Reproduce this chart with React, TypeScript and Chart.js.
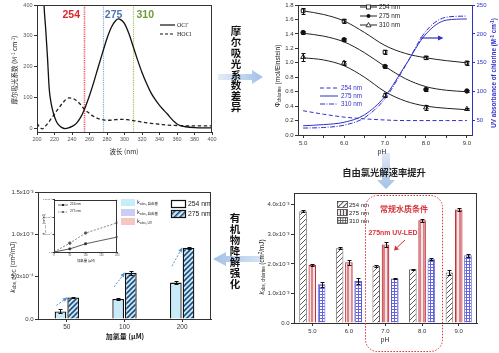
import React, { useEffect, useRef } from "react";
import { Chart, registerables } from "chart.js";

Chart.register(...registerables);

// ================= Panel A: molar absorptivity =================
const oclWavelengths = [205, 208, 210, 212, 214, 216, 219, 222, 225, 228, 232, 236, 240, 245, 250, 254, 260, 265, 270, 275, 280, 285, 290, 293, 296, 300, 305, 310, 315, 320, 325, 330, 335, 340, 345, 349, 353, 357, 360, 365, 370, 380, 390, 400];
const oclEpsilon = [620, 400, 320, 230, 128, 85, 48, 25, 12, 5, 1, 3, 8, 18, 38, 62, 108, 152, 200, 247, 292, 328, 350, 355, 352, 340, 308, 265, 222, 182, 148, 118, 95, 76, 60, 48, 35, 23, 16, 10, 7, 4, 3, 3];
const hoclWavelengths = [200, 203, 206, 210, 215, 220, 225, 230, 236, 240, 245, 250, 254, 259, 265, 270, 276, 282, 290, 298, 305, 310, 320, 330, 340, 350, 360, 370, 380, 390, 400];
const hoclEpsilon = [18, 6, 0, 10, 28, 48, 68, 86, 100, 99, 92, 78, 64, 52, 40, 33, 29, 28, 30, 31, 29, 27, 22, 18, 15, 12, 11, 10, 10, 10, 10];
const wavelengthTicks = [200, 220, 240, 260, 280, 300, 320, 340, 360, 380, 400];
const epsilonTicks = [0, 100, 200, 300, 400];
const markerWavelengths = [254, 275, 310];
const markerLabels = ["254", "275", "310"];

// ================= Panel B: quantum yield vs pH =================
const phValues = [5, 6, 7, 8, 9];
const phi254 = [1.72, 1.58, 1.15, 1.07, 1.0];
const phi275 = [1.42, 1.32, 0.95, 0.63, 0.61];
const phi310 = [1.08, 1.0, 0.55, 0.38, 0.36];
const phi254Err = [0.04, 0.03, 0.03, 0.02, 0.03];
const phi275Err = [0.02, 0.02, 0.02, 0.02, 0.02];
const phi310Err = [0.05, 0.03, 0.03, 0.04, 0.02];
const fitPH = [5, 5.5, 6, 6.5, 7, 7.5, 8, 8.5, 9];
const fit254 = [1.72, 1.67, 1.58, 1.42, 1.24, 1.13, 1.07, 1.03, 1.0];
const fit275 = [1.41, 1.37, 1.29, 1.14, 0.95, 0.78, 0.67, 0.62, 0.6];
const fit310 = [1.07, 1.04, 0.96, 0.8, 0.6, 0.47, 0.4, 0.37, 0.35];
const abs254 = [67, 61, 56, 53, 51, 50, 50, 50, 50];
const abs275 = [41, 43, 47, 60, 92, 146, 200, 224, 226];
const abs310 = [37, 38, 42, 55, 88, 145, 205, 229, 231];
const phTicks = [5, 5.5, 6, 6.5, 7, 7.5, 8, 8.5, 9];
const phiTicks = [0, 0.2, 0.4, 0.6, 0.8, 1.0, 1.2, 1.4, 1.6, 1.8];
const absTicks = [50, 100, 150, 200, 250];

// ================= Panel C: DOC degradation =================
const doseValues = [50, 100, 200];
const kDoc254 = [0.9e-4, 2.36e-4, 4.3e-4];
const kDoc275 = [2.55e-4, 5.45e-4, 8.4e-4];
const kDoc254Err = [0.25e-4, 0.12e-4, 0.15e-4];
const kDoc275Err = [0.1e-4, 0.25e-4, 0.12e-4];
const kDocTicks = [0, 5e-4, 1e-3, 1.5e-3];
const insetDoseTicks = [0, 50, 100, 150, 200];

// ================= Panel D: chlorine decay vs pH =================
const phCategories = ["5.0", "6.0", "7.0", "8.0", "9.0"];
const kCl254 = [3.78e-3, 2.53e-3, 1.94e-3, 1.82e-3, 1.71e-3];
const kCl275 = [1.97e-3, 2.06e-3, 2.66e-3, 3.48e-3, 3.84e-3];
const kCl310 = [1.31e-3, 1.42e-3, 1.51e-3, 2.16e-3, 2.29e-3];
const kCl254Err = [0.03e-3, 0.03e-3, 0.03e-3, 0.02e-3, 0.1e-3];
const kCl275Err = [0.03e-3, 0.08e-3, 0.08e-3, 0.05e-3, 0.05e-3];
const kCl310Err = [0.08e-3, 0.1e-3, 0.02e-3, 0.04e-3, 0.06e-3];
const kClTicks = [0, 1e-3, 2e-3, 3e-3, 4e-3];

// ================= styling =================
const FONT = "'Liberation Sans', Arial, Helvetica, sans-serif";
const SERIF = "'Liberation Serif', 'Times New Roman', serif";
const CJK = "'Noto Sans CJK SC', 'Noto Sans', sans-serif";
const BLUE = "#3030c8";
const RED = "#d7333b";
const markerColors = ["#ec5a60", "#8ea8d0", "#a4c164"];
const markerTextColors = ["#d8262d", "#4f76b5", "#6f9a3c"];
const markerLabelDx = [-13, 11, 12];

function sciLabel(v: number) {
  if (Math.abs(v) < 1e-12) return "0.0";
  if (v < 9.9e-4) return (v * 1e4).toFixed(1) + "x10\u207B\u2074";
  return (v * 1e3).toFixed(1) + "x10\u207B\u00B3";
}

function scaleCfg(o: any) {
  const color = o.color || "#333";
  const ticks: any = {
    font: { family: FONT, size: o.size ?? 6 },
    color: o.labelColor || "#333",
    padding: o.padding ?? 1.5,
    autoSkip: false,
    maxRotation: 0,
    minRotation: 0,
  };
  if (o.callback) ticks.callback = o.callback;
  const cfg: any = {
    type: o.type || "linear",
    grid: { display: true, drawOnChartArea: false, drawTicks: true, tickLength: o.tickLength ?? 3, color, lineWidth: 1, offset: false },
    border: { display: true, color, width: 1 },
    ticks,
    afterFit: (s: any) => {
      if (o.width != null) s.width = o.width;
      if (o.height != null) s.height = o.height;
    },
  };
  if (o.position) cfg.position = o.position;
  if (o.min != null) cfg.min = o.min;
  if (o.max != null) cfg.max = o.max;
  if (o.offset != null) cfg.offset = o.offset;
  if (o.tickValues) {
    cfg.afterBuildTicks = (s: any) => {
      s.ticks = o.tickValues.map((v: number) => ({ value: v }));
    };
  }
  return cfg;
}

const framePlugin = {
  id: "frame",
  afterDraw(chart: any, _a: any, opts: any) {
    const { ctx, chartArea: a } = chart;
    ctx.save();
    ctx.strokeStyle = opts.color || "#333";
    ctx.lineWidth = 1;
    ctx.beginPath();
    const t = Math.round(a.top) + 0.5;
    const r = Math.round(a.right) - 0.5;
    ctx.moveTo(a.left, t);
    ctx.lineTo(a.right, t);
    if (opts.right !== false) {
      ctx.moveTo(r, a.top);
      ctx.lineTo(r, a.bottom);
    }
    ctx.stroke();
    ctx.restore();
  },
};

const errorBarPlugin = {
  id: "errorBars",
  afterDatasetsDraw(chart: any) {
    const ctx = chart.ctx;
    chart.data.datasets.forEach((ds: any, i: number) => {
      if (!ds.errorBars) return;
      const meta = chart.getDatasetMeta(i);
      const ys = chart.scales[meta.yAxisID];
      ctx.save();
      ctx.strokeStyle = ds.errorColor || "#111";
      ctx.lineWidth = 1;
      const cw = ds.errorCap ?? 2;
      meta.data.forEach((el: any, j: number) => {
        const raw = ds.data[j];
        const v = typeof raw === "number" ? raw : raw.y;
        const e = ds.errorBars[j];
        const x = Math.round(el.x) + 0.5;
        const y1 = Math.round(ys.getPixelForValue(v + e)) + 0.5;
        const y2 = Math.round(ys.getPixelForValue(v - e)) + 0.5;
        ctx.beginPath();
        ctx.moveTo(x, y1);
        ctx.lineTo(x, y2);
        ctx.moveTo(x - cw, y1);
        ctx.lineTo(x + cw, y1);
        ctx.moveTo(x - cw, y2);
        ctx.lineTo(x + cw, y2);
        ctx.stroke();
      });
      ctx.restore();
    });
  },
};

const markerPlugin = {
  id: "markers",
  beforeDatasetsDraw(chart: any) {
    const { ctx, chartArea: a, scales } = chart;
    markerWavelengths.forEach((w, i) => {
      const px = Math.round(scales.x.getPixelForValue(w)) + 0.5;
      ctx.save();
      ctx.strokeStyle = markerColors[i];
      ctx.lineWidth = i === 0 ? 1.6 : 1.2;
      ctx.setLineDash([1.2, 1]);
      ctx.beginPath();
      ctx.moveTo(px, a.top);
      ctx.lineTo(px, a.bottom);
      ctx.stroke();
      ctx.restore();
    });
  },
  afterDatasetsDraw(chart: any) {
    const { ctx, scales } = chart;
    markerWavelengths.forEach((w, i) => {
      const px = scales.x.getPixelForValue(w);
      ctx.save();
      ctx.fillStyle = markerTextColors[i];
      ctx.font = `bold 10.5px ${FONT}`;
      ctx.textAlign = "center";
      ctx.textBaseline = "middle";
      ctx.fillText(markerLabels[i], px + markerLabelDx[i], 15);
      ctx.restore();
    });
  },
};

const docArrowPlugin = {
  id: "docArrows",
  afterDatasetsDraw(chart: any) {
    const ctx = chart.ctx;
    const m0 = chart.getDatasetMeta(0);
    const m1 = chart.getDatasetMeta(1);
    m0.data.forEach((b0: any, j: number) => {
      const b1 = m1.data[j];
      const sx = b0.x - 4;
      const sy = (b0.y + b1.y) / 2 + 1;
      const ex = b1.x - 7;
      const ey = b1.y + 1;
      ctx.save();
      ctx.strokeStyle = "#5d8fd2";
      ctx.fillStyle = "#5d8fd2";
      ctx.lineWidth = 1;
      ctx.setLineDash([2, 1.5]);
      ctx.beginPath();
      ctx.moveTo(sx, sy);
      ctx.lineTo(ex, ey);
      ctx.stroke();
      ctx.setLineDash([]);
      const ang = Math.atan2(ey - sy, ex - sx);
      ctx.beginPath();
      ctx.moveTo(ex + 2 * Math.cos(ang), ey + 2 * Math.sin(ang));
      ctx.lineTo(ex - 3 * Math.cos(ang) - 2 * Math.sin(ang), ey - 3 * Math.sin(ang) + 2 * Math.cos(ang));
      ctx.lineTo(ex - 3 * Math.cos(ang) + 2 * Math.sin(ang), ey - 3 * Math.sin(ang) - 2 * Math.cos(ang));
      ctx.closePath();
      ctx.fill();
      ctx.restore();
    });
  },
};

function makePattern(size: number, bg: string, fg: string, lw: number, kind: string) {
  const c = document.createElement("canvas");
  c.width = size;
  c.height = size;
  const g = c.getContext("2d")!;
  g.fillStyle = bg;
  g.fillRect(0, 0, size, size);
  g.strokeStyle = fg;
  g.lineWidth = lw;
  g.beginPath();
  if (kind === "diag") {
    g.moveTo(0, size);
    g.lineTo(size, 0);
    g.moveTo(-size / 2, size / 2);
    g.lineTo(size / 2, -size / 2);
    g.moveTo(size / 2, size * 1.5);
    g.lineTo(size * 1.5, size / 2);
  } else if (kind === "vert") {
    g.moveTo(size / 2, 0);
    g.lineTo(size / 2, size);
  } else {
    g.moveTo(0.5, 0);
    g.lineTo(0.5, size);
    g.moveTo(0, 0.5);
    g.lineTo(size, 0.5);
  }
  g.stroke();
  return g.createPattern(c, "repeat");
}

const baseOpts = (padding: any, plugins: any = {}) => ({
  responsive: false,
  animation: false,
  devicePixelRatio: 1,
  layout: { padding },
  plugins: { legend: { display: false }, tooltip: { enabled: false }, ...plugins },
});

function buildA() {
  return {
    type: "line",
    data: {
      datasets: [
        {
          data: oclWavelengths.map((x, i) => ({ x, y: oclEpsilon[i] })),
          borderColor: "#111",
          borderWidth: 1.3,
          pointRadius: 0,
          cubicInterpolationMode: "monotone",
        },
        {
          data: hoclWavelengths.map((x, i) => ({ x, y: hoclEpsilon[i] })),
          borderColor: "#222",
          borderWidth: 1.3,
          borderDash: [3.5, 2.5],
          pointRadius: 0,
          cubicInterpolationMode: "monotone",
        },
      ],
    },
    options: {
      ...baseOpts({ top: 5, right: 38, left: 0, bottom: 0 }),
      scales: {
        x: scaleCfg({ min: 200, max: 400, tickValues: wavelengthTicks, height: 28, callback: (v: any) => String(v), size: 5.5, labelColor: "#555" }),
        y: scaleCfg({ min: -10, max: 400, tickValues: epsilonTicks, width: 37, callback: (v: any) => String(v), size: 5.5, labelColor: "#555" }),
      },
    },
    plugins: [markerPlugin, framePlugin],
  };
}

function buildB() {
  const pts = (vals: number[]) => phValues.map((x, i) => ({ x, y: vals[i] }));
  const fit = (vals: number[]) => fitPH.map((x, i) => ({ x, y: vals[i] }));
  const line = (vals: number[], color: string, axis: string, dash: number[] = []) => ({
    data: fit(vals),
    borderColor: color,
    borderWidth: 1,
    borderDash: dash,
    pointRadius: 0,
    cubicInterpolationMode: "monotone",
    yAxisID: axis,
  });
  return {
    type: "line",
    data: {
      datasets: [
        line(abs254, BLUE, "y1", [4, 2.5]),
        line(abs275, BLUE, "y1"),
        line(abs310, BLUE, "y1", [5, 1.5, 1, 1.5]),
        line(fit254, "#222", "y"),
        line(fit275, "#222", "y"),
        line(fit310, "#222", "y"),
        { data: pts(phi254), showLine: false, pointStyle: "rect", pointRadius: 2.6, backgroundColor: "#fff", borderColor: "#222", borderWidth: 1, errorBars: phi254Err, yAxisID: "y" },
        { data: pts(phi275), showLine: false, pointStyle: "circle", pointRadius: 2.2, backgroundColor: "#111", borderColor: "#111", borderWidth: 1, errorBars: phi275Err, yAxisID: "y" },
        { data: pts(phi310), showLine: false, pointStyle: "triangle", pointRadius: 2.8, backgroundColor: "#fff", borderColor: "#222", borderWidth: 1, errorBars: phi310Err, yAxisID: "y" },
      ],
    },
    options: {
      ...baseOpts({ top: 4, right: 0, left: 0, bottom: 0 }, { frame: { right: false } }),
      scales: {
        x: scaleCfg({ min: 4.875, max: 9.125, tickValues: phTicks, height: 25, callback: (v: any) => (v % 1 === 0 ? Number(v).toFixed(1) : ""), size: 6 }),
        y: scaleCfg({ min: 0, max: 1.8, tickValues: phiTicks, width: 48, callback: (v: any) => Number(v).toFixed(1), size: 6 }),
        y1: scaleCfg({ position: "right", min: 25, max: 250, tickValues: absTicks, width: 27, callback: (v: any) => String(v), size: 6, color: BLUE, labelColor: BLUE }),
      },
    },
    plugins: [framePlugin, errorBarPlugin],
  };
}

function buildC() {
  const hatch = makePattern(5, "#cfe9f7", "#1d4f7d", 1.6, "diag");
  return {
    type: "bar",
    data: {
      labels: doseValues.map(String),
      datasets: [
        { data: kDoc254, backgroundColor: "#c9eaf8", borderColor: "#111", borderWidth: 1.3, errorBars: kDoc254Err, errorCap: 2 },
        { data: kDoc275, backgroundColor: hatch, borderColor: "#111", borderWidth: 1.3, errorBars: kDoc275Err, errorCap: 2 },
      ],
    },
    options: {
      ...baseOpts({ top: 12, right: 39, left: 0, bottom: 0 }),
      datasets: { bar: { categoryPercentage: 0.44, barPercentage: 0.92 } },
      scales: {
        x: scaleCfg({ type: "category", offset: true, height: 34, size: 6.5 }),
        y: scaleCfg({ min: 0, max: 1.5e-3, tickValues: kDocTicks, width: 38, callback: (v: any) => sciLabel(Number(v)), size: 6 }),
      },
    },
    plugins: [framePlugin, errorBarPlugin, docArrowPlugin],
  };
}

function buildInset() {
  const withOrigin = (vals: number[]) => [{ x: 0, y: 0 }, ...doseValues.map((x, i) => ({ x, y: vals[i] }))];
  const rad = (ctx: any) => (ctx.dataIndex === 0 ? 0 : 1.3);
  return {
    type: "line",
    data: {
      datasets: [
        { data: withOrigin(kDoc254), borderColor: "#333", borderWidth: 0.8, pointRadius: rad, pointStyle: "rect", backgroundColor: "#222", borderDash: [] },
        { data: withOrigin(kDoc275), borderColor: "#666", borderWidth: 0.8, pointRadius: rad, pointStyle: "circle", backgroundColor: "#444", borderDash: [2, 1.5] },
      ],
    },
    options: {
      ...baseOpts({ top: 3, right: 4, left: 0, bottom: 0 }),
      scales: {
        x: scaleCfg({ min: 0, max: 200, tickValues: insetDoseTicks, height: 11, callback: (v: any) => String(v), size: 2.6, tickLength: 1.5, padding: 0.5, labelColor: "#555" }),
        y: scaleCfg({ min: 0, max: 1.5e-3, tickValues: kDocTicks, width: 14, callback: (v: any) => sciLabel(Number(v)), size: 2.4, tickLength: 1.5, padding: 0.5, labelColor: "#555" }),
      },
    },
    plugins: [framePlugin],
  };
}

function buildD() {
  const p254 = makePattern(5, "#ffffff", "#5a5a5a", 1, "diag");
  const p275 = makePattern(4, "#f6e4e4", "#c4323b", 1.1, "vert");
  const p310 = makePattern(3, "#ffffff", "#6464dc", 1, "grid");
  return {
    type: "bar",
    data: {
      labels: phCategories,
      datasets: [
        { data: kCl254, backgroundColor: p254, borderColor: "#6a6a6a", borderWidth: 1, errorBars: kCl254Err, errorCap: 2 },
        { data: kCl275, backgroundColor: p275, borderColor: "#c4323b", borderWidth: 1.2, errorBars: kCl275Err, errorCap: 2 },
        { data: kCl310, backgroundColor: p310, borderColor: "#5a5ad0", borderWidth: 1, errorBars: kCl310Err, errorCap: 2 },
      ],
    },
    options: {
      ...baseOpts({ top: 13, right: 22, left: 0, bottom: 0 }),
      datasets: { bar: { categoryPercentage: 0.76, barPercentage: 0.82 } },
      scales: {
        x: scaleCfg({ type: "category", offset: true, height: 30, size: 6 }),
        y: scaleCfg({ min: 0, max: 4.4e-3, tickValues: kClTicks, width: 44, callback: (v: any) => sciLabel(Number(v)), size: 6 }),
      },
    },
    plugins: [framePlugin, errorBarPlugin],
  };
}

function ChartBox({ left, top, width, height, build }: any) {
  const ref = useRef<HTMLCanvasElement>(null);
  useEffect(() => {
    const chart = new Chart(ref.current as HTMLCanvasElement, build());
    return () => chart.destroy();
  }, []);
  return <canvas ref={ref} width={width} height={height} style={{ position: "absolute", left, top, width, height, display: "block" }} />;
}

function Label({ x, y, children, size = 7, color = "#222", weight = 400, family = FONT, rot = 0, anchor = "c", italic = false }: any) {
  const tx = anchor === "c" ? "-50%" : anchor === "l" ? "0%" : "-100%";
  return (
    <div
      style={{
        position: "absolute",
        left: x,
        top: y,
        transform: `translate(${tx}, -50%) rotate(${rot}deg)`,
        fontSize: size,
        color,
        fontWeight: weight,
        fontFamily: family,
        fontStyle: italic ? "italic" : "normal",
        whiteSpace: "nowrap",
        lineHeight: 1,
      }}
    >
      {children}
    </div>
  );
}

function VText({ x, top, text, pitch, size }: any) {
  return (
    <div style={{ position: "absolute", left: x - size / 2 - 2, top, width: size + 4, textAlign: "center", fontFamily: CJK, fontSize: size, fontWeight: 700, color: "#111" }}>
      {Array.from(text).map((ch: any, i: number) => (
        <div key={i} style={{ height: pitch, lineHeight: `${pitch}px` }}>
          {ch}
        </div>
      ))}
    </div>
  );
}

const sub = (t: string, s = "70%") => <sub style={{ fontSize: s, verticalAlign: "-0.25em" }}>{t}</sub>;
const sup = (t: string) => <sup style={{ fontSize: "70%", verticalAlign: "0.45em" }}>{t}</sup>;

export default function App() {
  return (
    <div style={{ position: "absolute", left: 0, top: 0, width: 499, height: 353, background: "#fff", overflow: "hidden" }}>
      <ChartBox left={0} top={0} width={250} height={160} build={buildA} />
      <ChartBox left={250} top={0} width={249} height={160} build={buildB} />
      <ChartBox left={0} top={180} width={250} height={173} build={buildC} />
      <ChartBox left={40} top={195} width={82} height={68} build={buildInset} />
      <ChartBox left={250} top={180} width={249} height={173} build={buildD} />

      <svg width={499} height={353} style={{ position: "absolute", left: 0, top: 0, pointerEvents: "none" }}>
        <defs>
          <linearGradient id="gR" x1="0" x2="1" y1="0" y2="0">
            <stop offset="0" stopColor="#e4edf8" />
            <stop offset="1" stopColor="#a3c0e6" />
          </linearGradient>
          <linearGradient id="gL" x1="1" x2="0" y1="0" y2="0">
            <stop offset="0" stopColor="#d6e4f4" />
            <stop offset="1" stopColor="#a3c0e6" />
          </linearGradient>
          <linearGradient id="gD" x1="0" x2="0" y1="0" y2="1">
            <stop offset="0" stopColor="#dfe9f6" />
            <stop offset="1" stopColor="#a3c0e6" />
          </linearGradient>
          <pattern id="hDoc" width="4" height="4" patternUnits="userSpaceOnUse" patternTransform="rotate(45)">
            <rect width="4" height="4" fill="#cfe9f7" />
            <rect width="1.6" height="4" fill="#1d4f7d" />
          </pattern>
          <pattern id="h254" width="3.5" height="3.5" patternUnits="userSpaceOnUse" patternTransform="rotate(45)">
            <rect width="3.5" height="3.5" fill="#fff" />
            <rect width="1" height="3.5" fill="#555" />
          </pattern>
          <pattern id="h275" width="3" height="3" patternUnits="userSpaceOnUse">
            <rect width="3" height="3" fill="#f6e4e4" />
            <rect x="1" width="1" height="3" fill="#555" />
          </pattern>
          <pattern id="h310" width="2.5" height="2.5" patternUnits="userSpaceOnUse">
            <rect width="2.5" height="2.5" fill="#fff" />
            <rect width="0.8" height="2.5" fill="#555" />
            <rect width="2.5" height="0.8" fill="#555" />
          </pattern>
        </defs>

        {/* big light blue arrows */}
        <polygon points="218,74 252,74 252,70 263,77 252,84 252,80 218,80" fill="url(#gR)" />
        <polygon points="262,256 226,256 226,252 213,259 226,266 226,262 262,262" fill="url(#gL)" />
        <polygon points="382,153 390,153 390,180 395,180 386,189 377,180 382,180" fill="url(#gD)" />

        {/* panel A legend */}
        <line x1={160} y1={25} x2={175} y2={25} stroke="#111" strokeWidth={1.2} />
        <line x1={160} y1={34} x2={175} y2={34} stroke="#111" strokeWidth={1.2} strokeDasharray="3,2" />

        {/* panel B legends */}
        <line x1={360} y1={7} x2={377} y2={7} stroke="#222" strokeWidth={1} />
        <rect x={366.5} y={5} width={4} height={4} fill="#fff" stroke="#222" strokeWidth={0.9} />
        <line x1={360} y1={16} x2={377} y2={16} stroke="#222" strokeWidth={1} />
        <circle cx={368.5} cy={16} r={2} fill="#111" />
        <line x1={360} y1={25} x2={377} y2={25} stroke="#222" strokeWidth={1} />
        <polygon points="368.5,22.5 371,26.8 366,26.8" fill="#fff" stroke="#222" strokeWidth={0.9} />
        <line x1={320} y1={88} x2={338} y2={88} stroke={BLUE} strokeWidth={1} strokeDasharray="4,2.5" />
        <line x1={320} y1={96} x2={338} y2={96} stroke={BLUE} strokeWidth={1} />
        <line x1={320} y1={104} x2={338} y2={104} stroke={BLUE} strokeWidth={1} strokeDasharray="5,1.5,1,1.5" />
        <line x1={420} y1={38} x2={439} y2={38} stroke={BLUE} strokeWidth={1.2} />
        <polygon points="438,35.5 443.5,38 438,40.5" fill={BLUE} />

        {/* panel C legends */}
        <rect x={121} y={199} width={14} height={7} fill="#c8ecfa" />
        <rect x={121} y={209} width={14} height={7} fill="#cdcdf4" />
        <rect x={121} y={218} width={14} height={7} fill="#f6c6c6" />
        <rect x={171.5} y={200.5} width={14} height={7} fill="#fff" stroke="#111" strokeWidth={1.2} />
        <rect x={171.5} y={210.5} width={14} height={7} fill="url(#hDoc)" stroke="#111" strokeWidth={1.2} />
        <line x1={58} y1={205} x2={68} y2={205} stroke="#333" strokeWidth={0.7} />
        <rect x={62} y={204} width={2} height={2} fill="#222" />
        <line x1={58} y1={212} x2={68} y2={212} stroke="#666" strokeWidth={0.7} strokeDasharray="1.5,1" />
        <circle cx={63} cy={212} r={1} fill="#444" />

        {/* panel D legends and highlight */}
        <rect x={337.5} y={201.5} width={10} height={6} fill="url(#h254)" stroke="#444" strokeWidth={0.8} />
        <rect x={337.5} y={209.5} width={10} height={6} fill="url(#h275)" stroke="#444" strokeWidth={0.8} />
        <rect x={337.5} y={217.5} width={10} height={6} fill="url(#h310)" stroke="#444" strokeWidth={0.8} />
        <rect x={365.5} y={195.5} width={77} height={156} rx={12} ry={12} fill="none" stroke={RED} strokeWidth={1} strokeDasharray="1.5,1.5" />
        <line x1={405} y1={240} x2={397} y2={247.5} stroke={RED} strokeWidth={1} />
        <polygon points="394,250.5 395.2,245.6 399,249.4" fill={RED} />
      </svg>

      {/* panel A text */}
      <Label x={14} y={70} rot={-90} size={6.5} family={CJK}>
        摩尔吸光系数 (M{sup("-1")} cm{sup("-1")})
      </Label>
      <Label x={124} y={151} size={6.5} family={CJK}>
        波长 (nm)
      </Label>
      <Label x={177} y={25} anchor="l" size={6} family={SERIF}>
        OCl{sup("-")}
      </Label>
      <Label x={177} y={34} anchor="l" size={6} family={SERIF}>
        HOCl
      </Label>
      <VText x={236} top={26} text="摩尔吸光系数差异" pitch={10.9} size={10.5} />

      {/* panel B text */}
      <Label x={279} y={76} rot={-90} size={6.5}>
        Φ{sub("chlorine")} (mol/Einstein)
      </Label>
      <Label x={494} y={73} rot={-90} size={6.3} weight={700} color={BLUE}>
        UV absorbance of chlorine (M{sup("-1")} cm{sup("-1")})
      </Label>
      <Label x={382} y={152} size={6.5}>
        pH
      </Label>
      <Label x={379} y={7} anchor="l" size={6.3}>
        254 nm
      </Label>
      <Label x={379} y={16} anchor="l" size={6.3}>
        275 nm
      </Label>
      <Label x={379} y={25} anchor="l" size={6.3}>
        310 nm
      </Label>
      <Label x={341} y={88} anchor="l" size={6.3} color={BLUE}>
        254 nm
      </Label>
      <Label x={341} y={96} anchor="l" size={6.3} color={BLUE}>
        275 nm
      </Label>
      <Label x={341} y={104} anchor="l" size={6.3} color={BLUE}>
        310 nm
      </Label>
      <Label x={384} y={173} size={9.3} weight={700} family={CJK}>
        自由氯光解速率提升
      </Label>

      {/* panel C text */}
      <Label x={14} y={267} rot={-90} size={6.5}>
        <i>k</i>
        {sub("obs, DOC")} (cm{sup("2")}/mJ)
      </Label>
      <Label x={125} y={336} size={7} weight={700} family={CJK}>
        加氯量 (μM)
      </Label>
      <Label x={188} y={204} anchor="l" size={6.8}>
        254 nm
      </Label>
      <Label x={188} y={214} anchor="l" size={6.8}>
        275 nm
      </Label>
      <Label x={137} y={202} anchor="l" size={5} family={CJK}>
        k{sub("obs, 自由基")}
      </Label>
      <Label x={137} y={212} anchor="l" size={5} family={CJK}>
        k{sub("obs, 自由基")}
      </Label>
      <Label x={137} y={221} anchor="l" size={5} family={CJK}>
        k{sub("obs, UV")}
      </Label>
      <Label x={70} y={205} anchor="l" size={3.3}>
        254 nm
      </Label>
      <Label x={70} y={212} anchor="l" size={3.3}>
        275 nm
      </Label>
      <Label x={86} y={261} size={3.4} family={CJK}>
        加氯量 (μM)
      </Label>
      <Label x={45} y={224} rot={-90} size={2.6}>
        <i>k</i>
        {sub("obs, DOC")} (cm{sup("2")}/mJ)
      </Label>
      <VText x={235} top={212} text="有机物降解强化" pitch={11} size={10.5} />

      {/* panel D text */}
      <Label x={263} y={267} rot={-90} size={6.3}>
        <i>k</i>
        {sub("obs, chlorine")} (cm{sup("2")}/mJ)
      </Label>
      <Label x={385} y={340} size={6.5}>
        pH
      </Label>
      <Label x={349} y={204.5} anchor="l" size={6}>
        254 nm
      </Label>
      <Label x={349} y={212.5} anchor="l" size={6}>
        275 nm
      </Label>
      <Label x={349} y={220.5} anchor="l" size={6}>
        310 nm
      </Label>
      <Label x={404} y={209} size={8} weight={700} color={RED} family={CJK}>
        常规水质条件
      </Label>
      <Label x={393} y={233} size={6.9} weight={700} color={RED}>
        275nm UV-LED
      </Label>
    </div>
  );
}
